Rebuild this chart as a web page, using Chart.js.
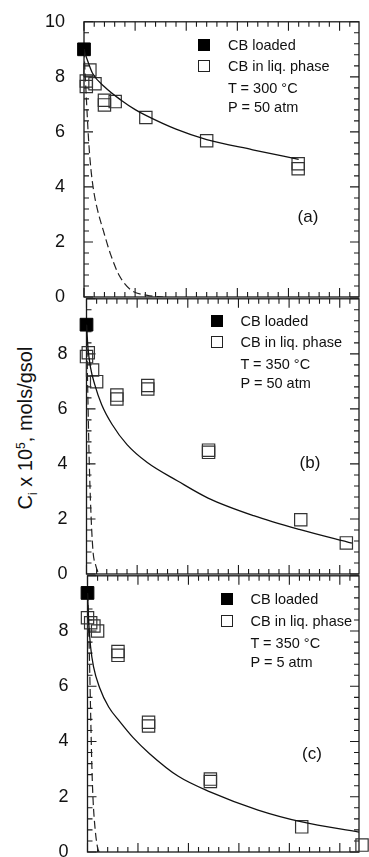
<!DOCTYPE html>
<html>
<head>
<meta charset="utf-8">
<script src="https://cdn.jsdelivr.net/npm/chart.js@4.4.1/dist/chart.umd.min.js"></script>
<style>
  html, body { margin: 0; padding: 0; background: #fff; overflow: hidden; }
  body { width: 369px; height: 857px; position: relative; font-family: "Liberation Sans", Arial, sans-serif; color: #111; }
  canvas { position: absolute; left: 0; }
  .lg { position: absolute; font-size: 14.5px; line-height: 1; white-space: nowrap; transform: translateY(-50%); }
  .mk { position: absolute; width: 12px; height: 12px; box-sizing: border-box; transform: translate(-50%, -50%); }
  .mk.fill { background: #000; }
  .mk.open { border: 1.2px solid #222; background: #fff; }
  .tag { position: absolute; font-size: 17px; line-height: 1; transform: translate(-50%, -50%); }
  #ylab { position: absolute; left: 27px; top: 428px; font-size: 20px; line-height: 1; white-space: nowrap;
          transform: translate(-50%, -50%) rotate(-90deg); }
  #ylab sub, #ylab sup { font-size: 12px; }
</style>
</head>
<body>
<div id="ylab">C<sub>i</sub> x 10<sup>5</sup>, mols/gsol</div>
<canvas id="ca" width="369" height="320" style="top:0px"></canvas>
<canvas id="cb" width="369" height="320" style="top:277px"></canvas>
<canvas id="cc" width="369" height="320" style="top:554px"></canvas>
<script>
// shared axes
const yTicks = [0, 2, 4, 6, 8, 10];
const xMax = 53.8;

// (a) T = 300 °C, P = 50 atm
const loadedAx = [0];
const loadedAy = [9.0];
const liqAx = [0.45, 0.45, 1.15, 2.15, 4.0, 4.0, 6.1, 12.1, 24.0, 41.9, 41.9];
const liqAy = [7.85, 7.65, 8.25, 7.75, 7.15, 6.98, 7.1, 6.52, 5.68, 4.84, 4.66];
const fitAx = [0, 0.4, 0.8, 1.7, 4, 7.2, 10.1, 12.1, 18, 24, 33, 42];
const fitAy = [9.0, 8.75, 8.54, 8.12, 7.64, 7.16, 6.8, 6.6, 6.1, 5.72, 5.35, 5.0];
const decayAx = [0, 0.25, 0.55, 0.9, 1.35, 1.9, 2.6, 3.8, 5.2, 6.9, 9.2, 12.4, 15.5];
const decayAy = [9.0, 8.0, 6.9, 5.7, 4.65, 3.85, 3.2, 2.4, 1.55, 0.78, 0.25, 0.06, 0];

// (b) T = 350 °C, P = 50 atm
const loadedBx = [0];
const loadedBy = [9.06];
const liqBx = [0.35, 0, 1.2, 2.0, 6.0, 6.0, 12.1, 12.1, 24.1, 24.1, 42.3, 51.3];
const liqBy = [8.04, 7.9, 7.41, 6.99, 6.5, 6.36, 6.85, 6.72, 4.5, 4.42, 1.97, 1.13];
const fitBx = [0, 0.3, 0.8, 1.6, 3.0, 5.0, 8.0, 12.0, 18.0, 24.0, 33.0, 42.0, 52.4];
const fitBy = [9.06, 8.2, 7.5, 6.9, 6.15, 5.45, 4.7, 4.05, 3.38, 2.76, 2.12, 1.62, 1.12];
const decayBx = [0, 0.1, 0.29, 0.49, 0.78, 1.27, 1.86, 2.25, 2.64];
const decayBy = [9.06, 8.07, 6.27, 4.47, 2.67, 0.86, 0.29, 0.08, 0];

// (c) T = 350 °C, P = 5 atm
const loadedCx = [0];
const loadedCy = [9.38];
const liqCx = [0, 0.63, 1.27, 2.0, 6.04, 6.04, 12.1, 12.1, 24.35, 24.35, 42.45, 54.4];
const liqCy = [8.48, 8.3, 8.18, 8.0, 7.26, 7.12, 4.7, 4.56, 2.64, 2.55, 0.91, 0.25];
const fitCx = [0, 0.25, 0.6, 1.2, 2.4, 4.2, 6.4, 9.0, 12.3, 18.0, 24.4, 33.8, 42.5, 53.8];
const fitCy = [9.38, 8.3, 7.45, 6.7, 5.95, 5.25, 4.72, 4.15, 3.56, 2.74, 2.17, 1.52, 1.09, 0.72];
const decayCx = [0, 0.2, 0.4, 0.6, 0.85, 1.1, 1.5, 2.0, 2.3];
const decayCy = [9.38, 8.3, 6.9, 5.2, 3.2, 1.9, 0.85, 0.15, 0];

const legendRows = ['CB loaded', 'CB in liq. phase'];
const conditions = [['T = 300 °C', 'P = 50 atm'], ['T = 350 °C', 'P = 50 atm'], ['T = 350 °C', 'P = 5 atm']];
const panelTags = ['(a)', '(b)', '(c)'];

function pts(xs, ys) {
  return xs.map((x, i) => ({ x: x, y: ys[i] }));
}

// frame with inward ticks on all four sides
const framePlugin = {
  id: 'frame',
  beforeDatasetsDraw(chart) {
    const { ctx, chartArea: a, scales: { x, y } } = chart;
    ctx.save();
    ctx.strokeStyle = '#1a1a1a';
    ctx.lineWidth = 1.3;
    ctx.strokeRect(a.left, a.top, a.right - a.left, a.bottom - a.top);
    ctx.lineWidth = 1.1;
    ctx.beginPath();
    for (let i = 0; i * 2 <= xMax; i++) {
      const px = x.getPixelForValue(i * 2);
      const len = i % 5 === 0 ? 9 : 5;
      ctx.moveTo(px, a.bottom); ctx.lineTo(px, a.bottom - len);
      ctx.moveTo(px, a.top); ctx.lineTo(px, a.top + len);
    }
    for (let i = 0; i <= 25; i++) {
      const py = y.getPixelForValue(i * 0.4);
      const len = i % 5 === 0 ? 9 : 5;
      ctx.moveTo(a.left, py); ctx.lineTo(a.left + len, py);
      ctx.moveTo(a.right, py); ctx.lineTo(a.right - len, py);
    }
    ctx.stroke();
    ctx.restore();
  }
};

function makePanel(canvasId, left, areaHeight, hideTop, loaded, liq, fit, decay) {
  const padBottom = 320 - 20 - areaHeight;
  return new Chart(document.getElementById(canvasId), {
    type: 'scatter',
    data: {
      datasets: [
        {
          data: fit, showLine: true, pointRadius: 0, borderColor: '#111', borderWidth: 1.3,
          cubicInterpolationMode: 'monotone'
        },
        {
          data: decay, showLine: true, pointRadius: 0, borderColor: '#222', borderWidth: 1.2,
          borderDash: [8, 4], cubicInterpolationMode: 'monotone'
        },
        {
          data: liq, pointStyle: 'rect', pointRadius: 8.7, borderColor: '#333', borderWidth: 1.2,
          backgroundColor: 'rgba(255,255,255,0)', clip: false
        },
        {
          data: loaded, pointStyle: 'rect', pointRadius: 9, borderColor: '#000', borderWidth: 1,
          backgroundColor: '#000', clip: false
        }
      ]
    },
    options: {
      responsive: false,
      animation: false,
      events: [],
      layout: { padding: { left: 0, right: 7, top: 20, bottom: padBottom } },
      plugins: { legend: { display: false }, tooltip: { enabled: false } },
      scales: {
        x: { type: 'linear', min: 0, max: xMax, display: false },
        y: {
          type: 'linear', min: 0, max: 10,
          afterFit: function (scale) { scale.width = left; },
          afterBuildTicks: function (scale) { scale.ticks = yTicks.map(v => ({ value: v })); },
          grid: { display: false },
          border: { display: false },
          ticks: {
            padding: 11, color: '#111',
            font: { family: '"Liberation Sans", Arial, sans-serif', size: 18 },
            callback: v => (hideTop && v === 10) ? '' : String(v)
          }
        }
      }
    },
    plugins: [framePlugin]
  });
}

makePanel('ca', 84, 277, false, pts(loadedAx, loadedAy), pts(liqAx, liqAy), pts(fitAx, fitAy), pts(decayAx, decayAy));
makePanel('cb', 86.5, 277, true, pts(loadedBx, loadedBy), pts(liqBx, liqBy), pts(fitBx, fitBy), pts(decayBx, decayBy));
makePanel('cc', 87.5, 278, true, pts(loadedCx, loadedCy), pts(liqCx, liqCy), pts(fitCx, fitCy), pts(decayCx, decayCy));

// legends and panel tags
const legendPos = [
  { mk: 204, tx: 228, rows: [45, 66, 88, 107], tag: [308, 216] },
  { mk: 217, tx: 240.5, rows: [321, 342, 364, 383], tag: [310, 462] },
  { mk: 226.7, tx: 250.5, rows: [599, 620.5, 642.5, 662], tag: [312, 753] }
];

legendPos.forEach((p, k) => {
  const texts = legendRows.concat(conditions[k]);
  texts.forEach((t, r) => {
    const el = document.createElement('div');
    el.className = 'lg';
    el.style.left = p.tx + 'px';
    el.style.top = p.rows[r] + 'px';
    el.textContent = t;
    document.body.appendChild(el);
    if (r < 2) {
      const m = document.createElement('div');
      m.className = 'mk ' + (r === 0 ? 'fill' : 'open');
      m.style.left = p.mk + 'px';
      m.style.top = p.rows[r] + 'px';
      document.body.appendChild(m);
    }
  });
  const tag = document.createElement('div');
  tag.className = 'tag';
  tag.style.left = p.tag[0] + 'px';
  tag.style.top = p.tag[1] + 'px';
  tag.textContent = panelTags[k];
  document.body.appendChild(tag);
});
</script>
</body>
</html>
